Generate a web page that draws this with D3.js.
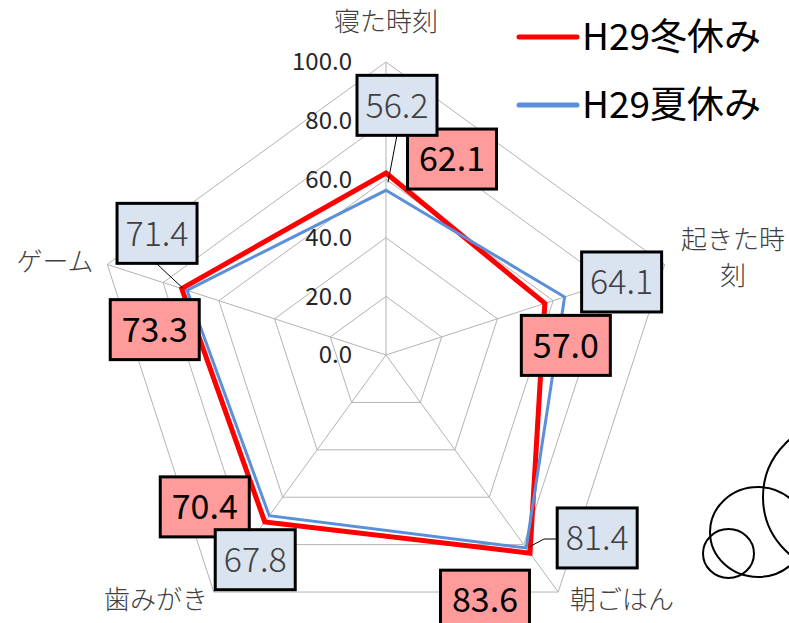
<!DOCTYPE html>
<html>
<head>
<meta charset="utf-8">
<script src="https://cdn.jsdelivr.net/npm/d3@7"></script>
<style>
  body { margin: 0; background: #fff; }
  svg { display: block; font-family: "Noto Sans CJK JP", "Noto Sans", sans-serif; }
</style>
</head>
<body>
<svg id="chart" width="789" height="623"></svg>
<script>
// categories (clockwise from top)
const categories = ["寝た時刻", "起きた時刻", "朝ごはん", "歯みがき", "ゲーム"];
const seriesNames = ["H29冬休み", "H29夏休み"];
const winterValues = [62.1, 57.0, 83.6, 70.4, 73.3];
const summerValues = [56.2, 64.1, 81.4, 67.8, 71.4];
const tickValues = [0, 20, 40, 60, 80, 100];

const svg = d3.select("#chart");
const cx = 386, cy = 355;

// Scales
const r = d3.scaleLinear().domain([0, 100]).range([0, 293]);
const angle = d3.scalePoint().domain(categories).range([0, 2 * Math.PI * 4 / 5]);

const pt = (cat, v) => {
  const a = angle(cat);
  return [cx + r(v) * Math.sin(a), cy - r(v) * Math.cos(a)];
};

const g = svg.append("g");

// Grid pentagons
tickValues.filter(t => t > 0).forEach(t => {
  g.append("polygon")
    .attr("points", categories.map(c => pt(c, t).join(",")).join(" "))
    .attr("fill", "none")
    .attr("stroke", "#b3b3b3")
    .attr("stroke-width", 1);
});

// Spokes
categories.forEach(c => {
  const [x, y] = pt(c, 100);
  g.append("line")
    .attr("x1", cx).attr("y1", cy).attr("x2", x).attr("y2", y)
    .attr("stroke", "#b3b3b3").attr("stroke-width", 1);
});

// Tick labels
g.selectAll(".tick")
  .data(tickValues)
  .enter()
  .append("text")
  .attr("x", 352)
  .attr("y", d => cy - r(d))
  .attr("dy", "0.35em")
  .attr("text-anchor", "end")
  .style("font-size", "24px")
  .style("fill", "#262626")
  .text(d => d3.format(".1f")(d));

// Category labels
const catLabel = [
  { x: 386, y: 22, lines: ["寝た時刻"] },
  { x: 733, y: 240, lines: ["起きた時", "刻"] },
  { x: 622, y: 600, lines: ["朝ごはん"] },
  { x: 156, y: 600, lines: ["歯みがき"] },
  { x: 55, y: 262, lines: ["ゲーム"] }
];
categories.forEach((c, i) => {
  const L = catLabel[i];
  const t = g.append("text")
    .attr("text-anchor", "middle")
    .style("font-size", "26px")
    .style("font-weight", "300")
    .style("fill", "#404040");
  L.lines.forEach((line, j) => {
    t.append("tspan").attr("x", L.x).attr("y", L.y + j * 36).attr("dy", "0.35em").text(line);
  });
});

// Series lines
const series = [
  { name: seriesNames[0], values: winterValues, color: "#ff0000", width: 5 },
  { name: seriesNames[1], values: summerValues, color: "#5b8fd9", width: 3 }
];

series.forEach(s => {
  g.append("polygon")
    .attr("points", categories.map((c, i) => pt(c, s.values[i]).join(",")).join(" "))
    .attr("fill", "none")
    .attr("stroke", s.color)
    .attr("stroke-width", s.width)
    .attr("stroke-linejoin", "miter");
});

// Leader lines
const [bx0, by0] = pt(categories[0], summerValues[0]);
g.append("line").attr("x1", 397).attr("y1", 135).attr("x2", bx0 + 2).attr("y2", by0 - 8)
  .attr("stroke", "#000").attr("stroke-width", 1);
const [bx4, by4] = pt(categories[4], summerValues[4]);
g.append("line").attr("x1", 157).attr("y1", 264).attr("x2", bx4 - 4).attr("y2", by4 - 2)
  .attr("stroke", "#000").attr("stroke-width", 1);
const [bx2, by2] = pt(categories[2], summerValues[2]);
g.append("polyline").attr("points", `556,539 544,539 ${bx2 + 3},${by2 - 1}`)
  .attr("fill", "none").attr("stroke", "#000").attr("stroke-width", 1);

// Data labels (offset of box centre from its point)
const winterOffsets = [[66, -14], [21, 42], [-45, 47], [-60, -15], [-27, 41]];
const summerOffsets = [[11, -85], [57, -15], [71, -10], [-14, 44], [-30, -57]];

function drawLabels(values, offsets, w, fill, textFill, weight) {
  categories.forEach((c, i) => {
    const [x, y] = pt(c, values[i]);
    const lx = x + offsets[i][0], ly = y + offsets[i][1];
    g.append("rect")
      .attr("x", lx - w / 2).attr("y", ly - 30)
      .attr("width", w).attr("height", 60)
      .attr("fill", fill)
      .attr("stroke", "#000")
      .attr("stroke-width", 3);
    g.append("text")
      .attr("x", lx).attr("y", ly)
      .attr("dy", "0.36em")
      .attr("text-anchor", "middle")
      .style("font-size", "34px")
      .style("font-weight", weight)
      .style("fill", textFill)
      .text(d3.format(".1f")(values[i]));
  });
}
drawLabels(winterValues, winterOffsets, 89, "#ff9b9b", "#000", 400);
drawLabels(summerValues, summerOffsets, 80, "#dae3f0", "#404040", 300);

// Legend
const legend = svg.append("g");
series.forEach((s, i) => {
  const y = 37 + i * 68;
  legend.append("line")
    .attr("x1", 519).attr("x2", 577).attr("y1", y).attr("y2", y)
    .attr("stroke", s.color).attr("stroke-width", 5).attr("stroke-linecap", "round");
  legend.append("text")
    .attr("x", 582).attr("y", y).attr("dy", "0.36em")
    .style("font-size", "37px")
    .style("fill", "#000")
    .text(s.name);
});

// Decorative circles (bottom right)
const deco = [
  { x: 838, y: 497, rx: 75, ry: 75 },
  { x: 758, y: 532, rx: 48, ry: 45 },
  { x: 728.5, y: 553.5, rx: 25.5, ry: 24.5 }
];
svg.selectAll(".deco").data(deco).enter().append("ellipse")
  .attr("cx", d => d.x).attr("cy", d => d.y).attr("rx", d => d.rx).attr("ry", d => d.ry)
  .attr("fill", "none").attr("stroke", "#000").attr("stroke-width", 2);
</script>
</body>
</html>
